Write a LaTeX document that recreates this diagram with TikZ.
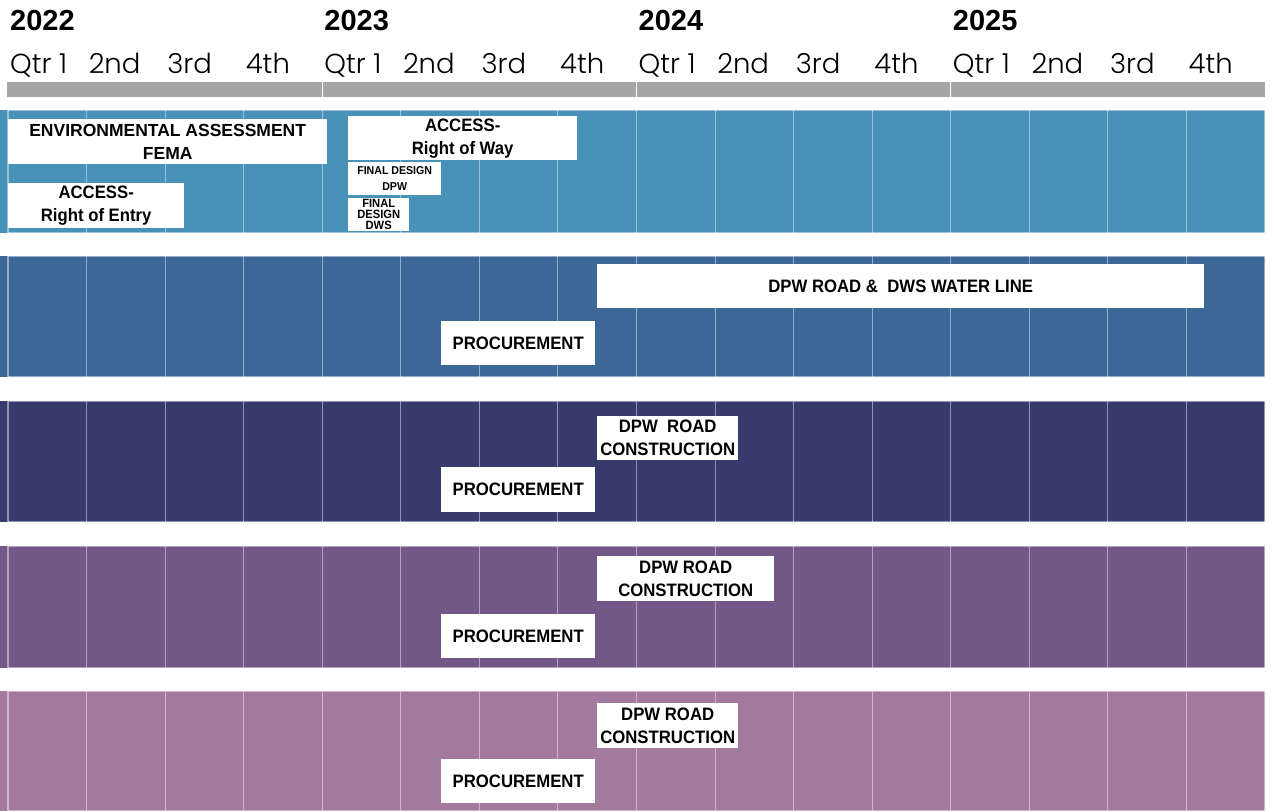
\documentclass[tikz,border=0pt]{standalone}
\usepackage{fontspec}
\setmainfont{Liberation Sans}
\newfontfamily\qfont{Poppins Light}
\newfontfamily\labfont{Liberation Sans}[FakeStretch=0.93]
\definecolor{hdr}{HTML}{A6A6A6}
\definecolor{bandA}{HTML}{4891B9}
\definecolor{bandB}{HTML}{3D6796}
\definecolor{bandC}{HTML}{363B6C}
\definecolor{bandD}{HTML}{725886}
\definecolor{bandE}{HTML}{A4799E}
\begin{document}
\begin{tikzpicture}[x=1pt,y=-1pt,
  yr/.style={font=\bfseries\fontsize{29}{30}\selectfont, inner sep=0, anchor=base west},
  qtr/.style={font=\qfont\fontsize{27.5}{29}\selectfont, inner sep=0, anchor=base west},
  gridln/.style={draw=white, draw opacity=0.45, line width=1.1pt},
  taskbox/.style={fill=white, inner sep=0, anchor=north west, align=center,
    font=\labfont\bfseries\fontsize{18}{23}\selectfont},
  widebox/.style={taskbox, font=\bfseries\fontsize{17.5}{23}\selectfont},
  smallbox/.style={taskbox, font=\labfont\bfseries\fontsize{11.4}{16}\selectfont},
  tinybox/.style={taskbox, font=\labfont\bfseries\fontsize{12}{11}\selectfont}]
\useasboundingbox (0,0) rectangle (1274,811);
\fill[white] (0,0) rectangle (1274,811);
% header bar
\fill[hdr] (7,82) rectangle (1265,97);
\foreach \k in {4,8,12}
  \draw[white, line width=1.2pt] ({8+78.5625*\k},82) -- ({8+78.5625*\k},97);
% years and quarters
\foreach \yy/\k in {2022/0,2023/4,2024/8,2025/12} {
  \node[yr] (y\yy) at ({8+78.5625*\k+2},30) {\yy};
  \node[qtr] (q\yy a) at ({8+78.5625*\k+2},73) {Qtr 1};
  \node[qtr] (q\yy b) at ({8+78.5625*(\k+1)+2},73) {2nd};
  \node[qtr] (q\yy c) at ({8+78.5625*(\k+2)+2},73) {3rd};
  \node[qtr] (q\yy d) at ({8+78.5625*(\k+3)+2},73) {4th};
}
% bands
\foreach \t/\b/\c in {110/233/bandA,256/377/bandB,401/522/bandC,546/668/bandD,691/811/bandE} {
  \fill[\c] (0,\t) rectangle (1265,\b);
  \foreach \k in {0,...,16}
    \draw[gridln] ({8+78.5625*\k},\t) -- ({8+78.5625*\k},\b);
  \draw[gridln] (8,\t+0.5) -- (1265,\t+0.5);
  \draw[gridln] (8,\b-0.5) -- (1265,\b-0.5);
}
% band 1 tasks
\node[widebox, minimum width=319, minimum height=45] (ea) at (8,119) {ENVIRONMENTAL ASSESSMENT\\FEMA};
\node[taskbox, minimum width=176, minimum height=45] (roe) at (8,183) {ACCESS-\\Right of Entry};
\node[taskbox, minimum width=229, minimum height=44] (row) at (348,116) {ACCESS-\\Right of Way};
\node[smallbox, minimum width=93, minimum height=33] (fdp) at (348,162) {FINAL DESIGN\\DPW};
\node[tinybox, minimum width=61, minimum height=33] (fdw) at (348,198) {FINAL\\DESIGN\\DWS};
% band 2
\node[taskbox, minimum width=607, minimum height=44] (road) at (597,264) {DPW ROAD \&\ \ DWS WATER LINE};
\node[taskbox, minimum width=154, minimum height=44] (pr2) at (441,321) {PROCUREMENT};
% band 3
\node[taskbox, minimum width=141, minimum height=44] (c3) at (597,416) {DPW\ \ ROAD\\CONSTRUCTION};
\node[taskbox, minimum width=154, minimum height=45] (pr3) at (441,467) {PROCUREMENT};
% band 4
\node[taskbox, minimum width=177, minimum height=45] (c4) at (597,556) {DPW ROAD\\CONSTRUCTION};
\node[taskbox, minimum width=154, minimum height=44] (pr4) at (441,614) {PROCUREMENT};
% band 5
\node[taskbox, minimum width=141, minimum height=45] (c5) at (597,703) {DPW ROAD\\CONSTRUCTION};
\node[taskbox, minimum width=154, minimum height=44] (pr5) at (441,759) {PROCUREMENT};
\end{tikzpicture}
\end{document}
